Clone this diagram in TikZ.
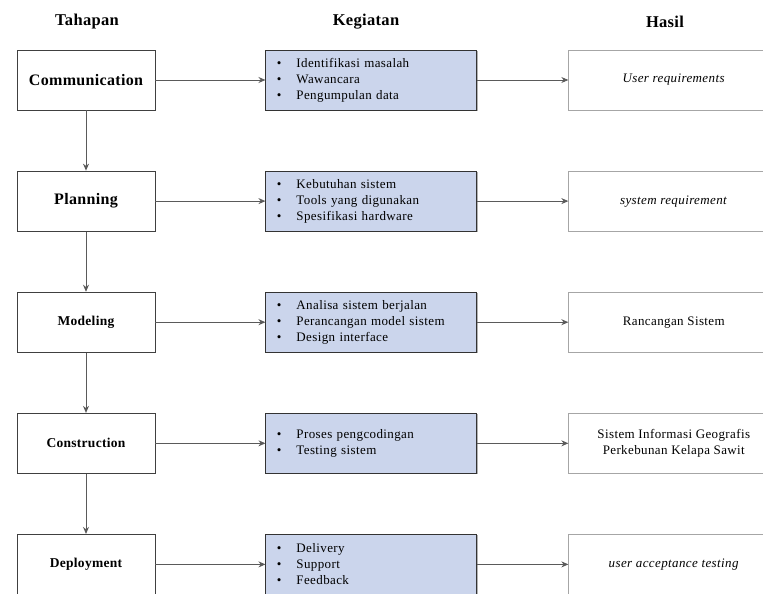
\documentclass[tikz,border=0pt]{standalone}
\usepackage{fontspec}
\setmainfont{Liberation Serif}
\usetikzlibrary{arrows.meta,positioning,shadows}
\definecolor{activity}{HTML}{CBD5EC}
\definecolor{edge}{HTML}{5A5A5A}
\newcommand{\itm}[1]{\textbullet\hspace{15pt}#1}

\begin{document}
\begin{tikzpicture}[
  x=1pt,y=-1pt,
  node distance=60.2pt and 110pt,
  phase/.style={draw=black!75,fill=white,line width=0.9pt,
    minimum width=138pt,minimum height=60pt,
    font=\bfseries\fontsize{16}{19}\selectfont\addfontfeature{LetterSpace=2},
    drop shadow={shadow xshift=1pt,shadow yshift=-1pt,fill=black!60}},
  minor/.style={phase,font=\bfseries\fontsize{13.5}{16}\selectfont\addfontfeature{LetterSpace=2}},
  task/.style={draw=black!80,fill=activity,line width=0.9pt,
    text width=189pt,inner xsep=11pt,align=left,minimum height=60pt,
    font=\fontsize{13}{16}\selectfont\addfontfeature{LetterSpace=3},
    drop shadow={shadow xshift=1pt,shadow yshift=-1pt,fill=black!60}},
  outcome/.style={draw=black!35,fill=white,line width=0.9pt,
    minimum width=210pt,minimum height=60pt,align=center,
    font=\fontsize{13}{16}\selectfont\addfontfeature{LetterSpace=3}},
  head/.style={font=\bfseries\fontsize{16.5}{19}\selectfont\addfontfeature{LetterSpace=2}},
  arrow/.style={draw=edge,line width=0.9pt,-{Stealth[length=7pt,width=6pt]}}
]
\useasboundingbox (0,0) rectangle (763,594);

% column headings
\node[head] (tahapan) at (87,22) {Tahapan};
\node[head] (kegiatan) at (366,22) {Kegiatan};
\node[head] (hasil) at (665,22) {Hasil};

% stages
\node[phase] (comm) at (86,80) {Communication};
\node[phase,below=of comm] (plan) {Planning};
\node[minor,below=of plan] (model) {Modeling};
\node[minor,below=of model] (constr) {Construction};
\node[minor,below=of constr] (deploy) {Deployment};

% activities
\node[task,right=of comm] (commtask) {\itm{Identifikasi masalah}\\
\itm{Wawancara}\\ \itm{Pengumpulan data}};
\node[task,right=of plan] (plantask) {\itm{Kebutuhan sistem}\\
\itm{Tools yang digunakan}\\ \itm{Spesifikasi hardware}};
\node[task,right=of model] (modeltask) {\itm{Analisa sistem berjalan}\\
\itm{Perancangan model sistem}\\ \itm{Design interface}};
\node[task,right=of constr] (constrtask) {\itm{Proses pengcodingan}\\
\itm{Testing sistem}};
\node[task,right=of deploy] (deploytask) {\itm{Delivery}\\
\itm{Support}\\ \itm{Feedback}};

% results
\node[outcome,right=91pt of commtask] (commres) {\textit{User requirements}};
\node[outcome,right=91pt of plantask] (planres) {\textit{system requirement}};
\node[outcome,right=91pt of modeltask] (modelres) {Rancangan Sistem};
\node[outcome,right=91pt of constrtask] (constrres) {Sistem Informasi Geografis\\
Perkebunan Kelapa Sawit};
\node[outcome,right=91pt of deploytask] (deployres) {\textit{user acceptance testing}};

\draw[arrow] (comm) -- (plan);
\draw[arrow] (plan) -- (model);
\draw[arrow] (model) -- (constr);
\draw[arrow] (constr) -- (deploy);

\draw[arrow] (comm) -- (commtask);
\draw[arrow] (plan) -- (plantask);
\draw[arrow] (model) -- (modeltask);
\draw[arrow] (constr) -- (constrtask);
\draw[arrow] (deploy) -- (deploytask);

\draw[arrow] (commtask) -- (commres);
\draw[arrow] (plantask) -- (planres);
\draw[arrow] (modeltask) -- (modelres);
\draw[arrow] (constrtask) -- (constrres);
\draw[arrow] (deploytask) -- (deployres);
\end{tikzpicture}
\end{document}
